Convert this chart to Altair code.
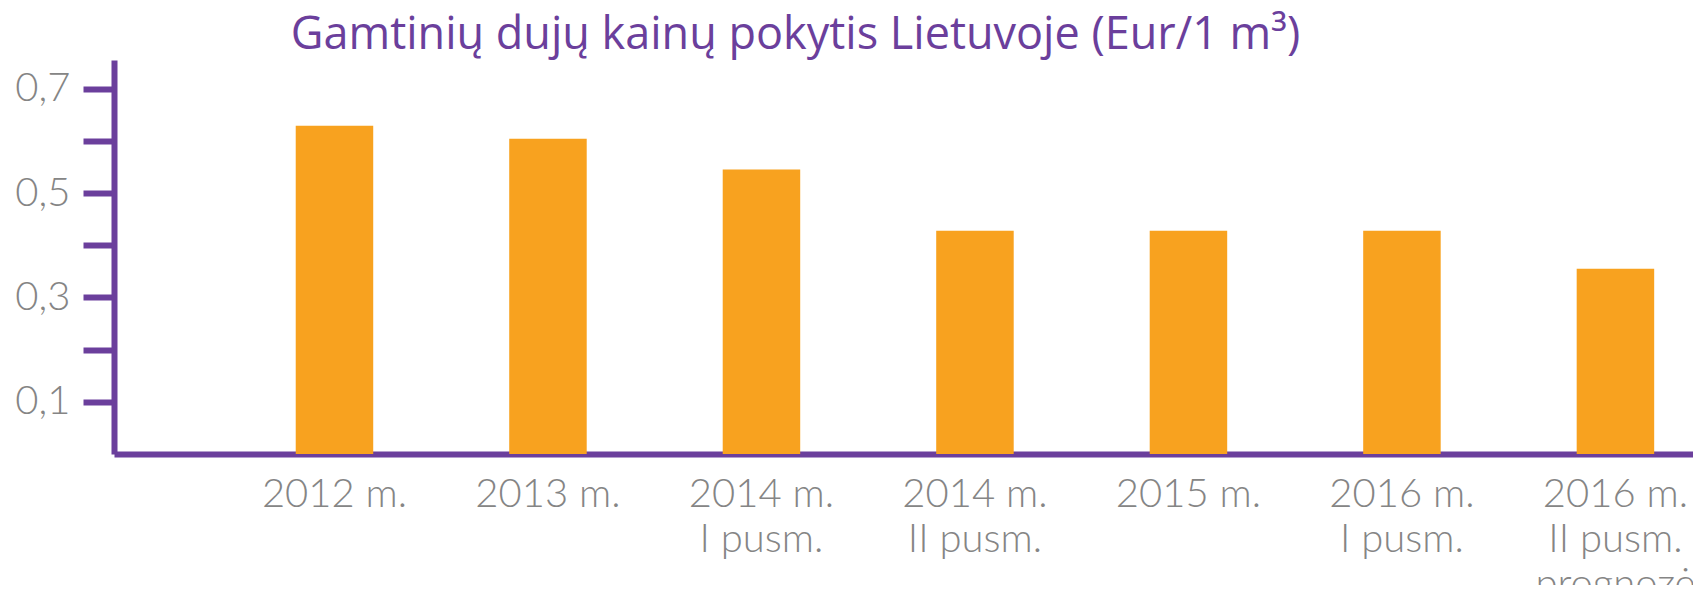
import altair as alt
import pandas as pd

# ---- data ----
categories = [
    "2012 m.",
    "2013 m.",
    "2014 m.\nI pusm.",
    "2014 m.\nII pusm.",
    "2015 m.",
    "2016 m.\nI pusm.",
    "2016 m.\nII pusm.\nprognozė",
]
prices = [0.629, 0.604, 0.545, 0.428, 0.428, 0.428, 0.355]
y_tick_values = [0.1, 0.2, 0.3, 0.4, 0.5, 0.6, 0.7]
title_text = "Gamtinių dujų kainų pokytis Lietuvoje (Eur/1 m³)"

PURPLE = "#6b3f9c"
ORANGE = "#f8a21f"
GRAY = "#858585"
FONT = "Lato"
TITLE_FONT = "Open Sans"

df = pd.DataFrame({"period": categories, "price": prices})

chart = (
    alt.Chart(df)
    .mark_bar(color=ORANGE)
    .encode(
        x=alt.X(
            "period:N",
            sort=categories,
            title=None,
            scale=alt.Scale(paddingInner=0.637, paddingOuter=0.5165, align=0.824),
            axis=alt.Axis(
                labelExpr="split(datum.label, '\\n')",
                labelAngle=0,
                labelFont=FONT,
                labelFontWeight=300,
                labelFontSize=40,
                labelColor=GRAY,
                labelLineHeight=45,
                labelPadding=20,
                labelBaseline="top",
                ticks=False,
                domainColor=PURPLE,
                domainWidth=6,
                labelOverlap=False,
                labelBound=False,
                labelFlush=False,
            ),
        ),
        y=alt.Y(
            "price:Q",
            title=None,
            scale=alt.Scale(domain=[0, 0.755], nice=False, zero=True),
            axis=alt.Axis(
                values=y_tick_values,
                labelExpr="round(datum.value*10) % 2 == 1 ? replace(format(datum.value, '.1f'), '.', ',') : ''",
                grid=False,
                tickSize=31,
                tickWidth=6,
                tickColor=PURPLE,
                domainColor=PURPLE,
                domainWidth=6,
                labelFont=FONT,
                labelFontWeight=300,
                labelFontSize=40,
                labelColor=GRAY,
                labelPadding=13,
                labelOverlap=False,
            ),
        ),
    )
    .properties(
        width=1579,
        height=394,
        title=alt.TitleParams(
            title_text,
            font=TITLE_FONT,
            fontSize=45,
            fontWeight="normal",
            color=PURPLE,
            anchor="middle",
            frame="group",
            dx=-108,
            dy=49,
            offset=15,
            baseline="alphabetic",
        ),
        autosize=alt.AutoSizeParams(type="none"),
        padding={"left": 106, "top": 52, "right": 0, "bottom": 131},
    )
    .configure_view(stroke=None)
)

chart.save("out.html", embed_options={"renderer": "svg", "actions": False})
